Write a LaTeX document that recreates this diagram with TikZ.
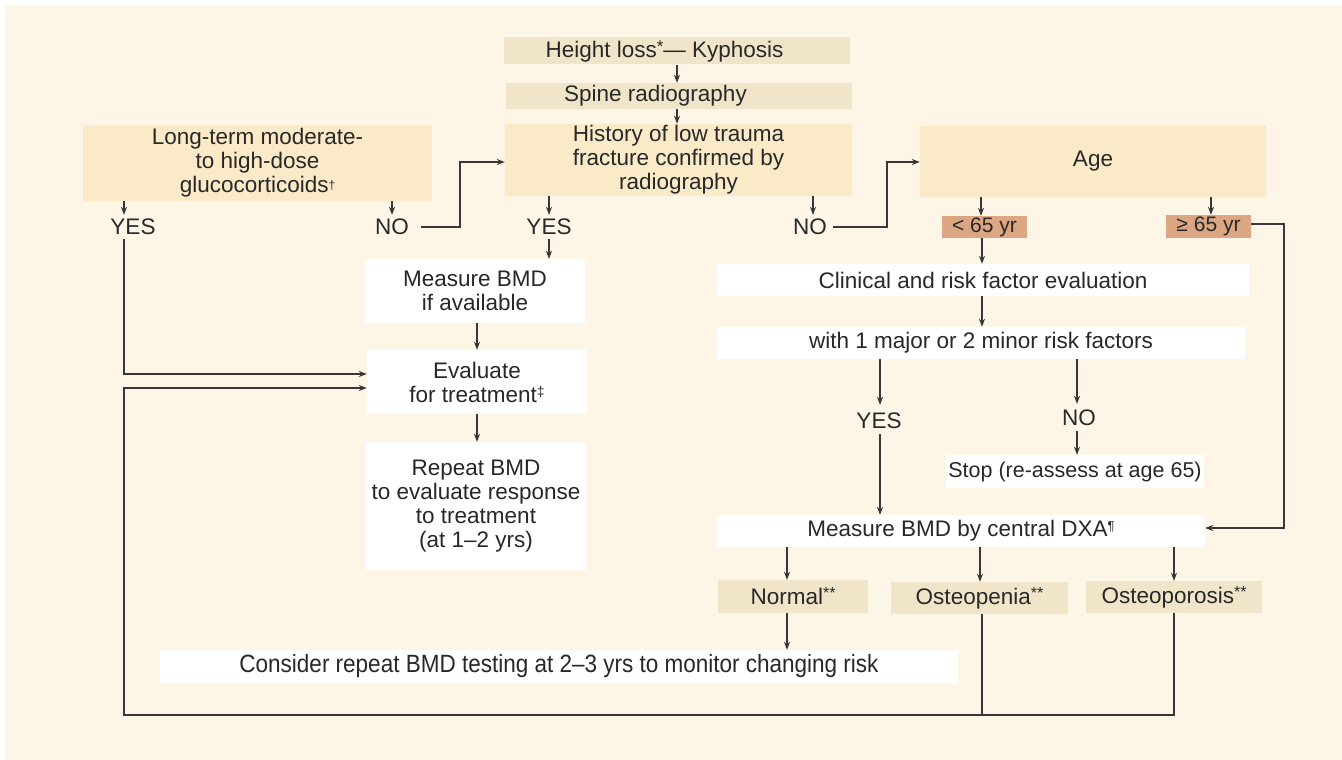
\documentclass[tikz,border=0pt]{standalone}
\usepackage{fontspec}
\setmainfont{Liberation Sans}
\newfontfamily\narrowfont[FakeStretch=0.9]{Liberation Sans}
\usetikzlibrary{arrows.meta}
\definecolor{bgcream}{RGB}{253,246,230}
\definecolor{tanbox}{RGB}{240,229,200}
\definecolor{peachbox}{RGB}{251,234,199}
\definecolor{salmonbox}{RGB}{220,166,131}
\definecolor{ink}{RGB}{40,40,40}
\definecolor{wire}{RGB}{55,55,55}
\newcommand{\supsym}[3][5pt]{{\fontsize{#3}{#3}\selectfont\raisebox{#1}{#2}}}
\begin{document}
\begin{tikzpicture}[x=1pt,y=-1pt,
  every node/.style={font=\fontsize{22.5}{24}\selectfont, text=ink, inner sep=0pt, align=center},
  boxbase/.style={rectangle, draw=none, minimum width=#1},
  tanb/.style={boxbase=#1, fill=tanbox},
  peachb/.style={boxbase=#1, fill=peachbox},
  salmb/.style={boxbase=#1, fill=salmonbox},
  whiteb/.style={boxbase=#1, fill=white},
  lbl/.style={fill=none},
  arr/.style={draw=wire, line width=1.2pt, -{Stealth[length=8pt,width=6pt]}},
  ln/.style={draw=wire, line width=1.2pt}
]
\useasboundingbox (0,0) rectangle (1342,760);
\fill[white] (0,0) rectangle (1342,760);
\fill[bgcream] (5,6) rectangle (1342,760);

% top column
\node[tanb=346, minimum height=27] (height) at (677,51) {\hspace*{-25pt}Height loss\supsym[5pt]{*}{17}— Kyphosis};
\node[tanb=346, minimum height=26] (spine) at (679,96) {\hspace*{-47pt}Spine radiography};
\node[peachb=347, minimum height=72] (hist) at (678.5,160) {History of low trauma\\fracture confirmed by\\radiography};
\node[peachb=349, minimum height=76] (lt) at (257.5,163) {Long-term moderate-\\to high-dose\\glucocorticoids\supsym[3pt]{†}{12}};
\node[peachb=346, minimum height=71] (age) at (1093,161.5) {Age};

% labels row
\node[lbl] (yes1) at (133,227) {YES};
\node[lbl] (no1) at (392,227) {NO};
\node[lbl] (yes2) at (549,227) {YES};
\node[lbl] (no2) at (810,227) {NO};
\node[salmb=85, minimum height=22] (lt65) at (984.5,227) {\fontsize{21}{22}\selectfont < 65 yr};
\node[salmb=85, minimum height=23] (ge65) at (1208.5,226.5) {\fontsize{21}{22}\selectfont ≥ 65 yr};

% left column
\node[whiteb=220, minimum height=64] (meas1) at (475,291) {Measure BMD\\if available};
\node[whiteb=220, minimum height=64] (eval) at (477,382) {Evaluate\\for treatment\supsym[6pt]{‡}{14}};
\node[whiteb=220, minimum height=128] (rep) at (476,506) {Repeat BMD\\to evaluate response\\to treatment\\(at 1–2 yrs)};

% right column
\node[whiteb=532, minimum height=32] (clin) at (983,280) {Clinical and risk factor evaluation};
\node[whiteb=528, minimum height=32] (with) at (981,343) {with 1 major or 2 minor risk factors};
\node[lbl] (yes3) at (879,421) {YES};
\node[lbl] (no3) at (1079,418) {NO};
\node[whiteb=258, minimum height=33] (stop) at (1075,471.5) {\fontsize{21.5}{24}\selectfont Stop (re-assess at age 65)};
\node[whiteb=488, minimum height=32] (dxa) at (961,531) {Measure BMD by central DXA\supsym[6pt]{¶}{13}};
\node[tanb=150, minimum height=33] (normal) at (793,596.5) {Normal\supsym[6pt]{**}{16}};
\node[tanb=177, minimum height=32] (openia) at (979.5,598) {Osteopenia\supsym[6pt]{**}{16}};
\node[tanb=176, minimum height=32] (oporo) at (1174,597) {Osteoporosis\supsym[6pt]{**}{16}};
\node[whiteb=798, minimum height=33] (cons) at (559,666.5) {\narrowfont\fontsize{25}{26}\selectfont Consider repeat BMD testing at 2–3 yrs to monitor changing risk};

% helper x positions
\coordinate (xL) at (124,0);
\coordinate (xNO1) at (392,0);
\coordinate (xC) at (677,0);
\coordinate (xY2) at (549,0);
\coordinate (xN2) at (813,0);
\coordinate (xA1) at (981,0);
\coordinate (xA2) at (1211,0);
\coordinate (xM) at (477,0);
\coordinate (xR) at (982,0);
\coordinate (xY3) at (880,0);
\coordinate (xN3) at (1077,0);
\coordinate (xD1) at (787,0);
\coordinate (xD2) at (980,0);
\coordinate (xD3) at (1174,0);
\coordinate (xRight) at (1284,0);
\coordinate (yBot) at (0,715);

% connectors top
\draw[arr] (height.south -| xC) -- (spine.north -| xC);
\draw[arr] (spine.south -| xC) -- (hist.north -| xC);
\draw[arr] (lt.south -| xL) -- ([yshift=4]yes1.north -| xL);
\draw[arr] (lt.south -| xNO1) -- ([yshift=4]no1.north -| xNO1);
\draw[arr] ([xshift=12]no1.east) -- ++(39,0) |- ([yshift=-2]hist.west);
\draw[arr] (hist.south -| xY2) -- ([yshift=4]yes2.north -| xY2);
\draw[arr] (hist.south -| xN2) -- ([yshift=4]no2.north -| xN2);
\draw[arr] ([xshift=6]no2.east) -- ++(54,0) |- ([yshift=-0.5]age.west);
\draw[arr] (age.south -| xA1) -- (lt65.north -| xA1);
\draw[arr] (age.south -| xA2) -- (ge65.north -| xA2);

% left branch
\draw[arr] ([yshift=-4]yes2.south -| xY2) -- (meas1.north -| xY2);
\draw[arr] (meas1.south -| xM) -- (eval.north -| xM);
\draw[arr] (eval.south -| xM) -- (rep.north -| xM);
\draw[arr] ([yshift=-4]yes1.south -| xL) |- ([yshift=8]eval.west);

% right branch
\draw[arr] (lt65.south -| xR) -- (clin.north -| xR);
\draw[arr] (clin.south -| xR) -- (with.north -| xR);
\draw[arr] (with.south -| xY3) -- ([yshift=8]yes3.north -| xY3);
\draw[arr] (with.south -| xN3) -- ([yshift=6]no3.north -| xN3);
\draw[arr] ([yshift=-5]yes3.south -| xY3) -- (dxa.north -| xY3);
\draw[arr] ([yshift=-5]no3.south -| xN3) -- (stop.north -| xN3);
\draw[arr] ([yshift=2.5]ge65.east) -| ([yshift=3] dxa.east -| xRight) -- ([yshift=3]dxa.east);
\draw[arr] (dxa.south -| xD1) -- (normal.north -| xD1);
\draw[arr] (dxa.south -| xD2) -- (openia.north -| xD2);
\draw[arr] (dxa.south -| xD3) -- (oporo.north -| xD3);
\draw[arr] (normal.south -| xD1) -- (cons.north -| xD1);

% feedback loop
\draw[ln] (openia.south -| xR) -- (yBot -| xR);
\draw[arr] (oporo.south -| xD3) -- (yBot -| xD3) -- (yBot -| xL) |- ([yshift=-6]eval.west);
\end{tikzpicture}
\end{document}
